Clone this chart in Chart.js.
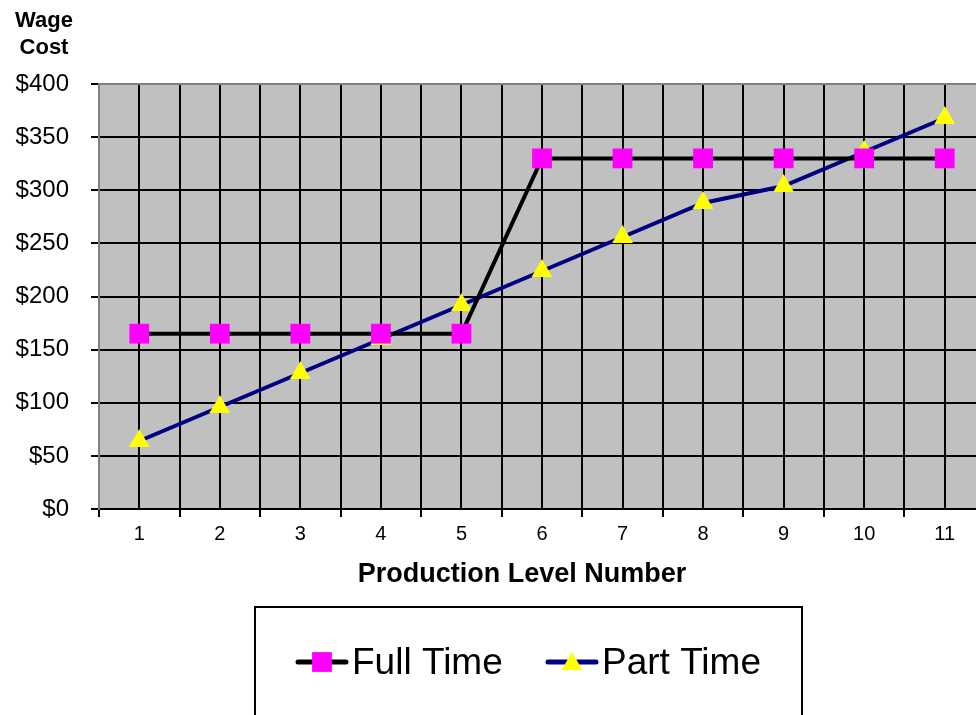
<!DOCTYPE html>
<html>
<head>
<meta charset="utf-8">
<script src="https://cdn.jsdelivr.net/npm/chart.js@4"></script>
<style>
  html, body { margin: 0; padding: 0; background: #fff; }
  #wrap { position: relative; width: 976px; height: 715px; overflow: hidden; }
  canvas { display: block; }
</style>
</head>
<body>
<!-- the plot runs past the right edge of the picture, so the canvas is wider than the window -->
<div id="wrap"><canvas id="chart" width="999" height="715"></canvas></div>
<script>
// ======================
// Data
// ======================
const levels = [1, 2, 3, 4, 5, 6, 7, 8, 9, 10, 11];
const fullTime = [165, 165, 165, 165, 165, 330, 330, 330, 330, 330, 330];
const partTime = [64, 96, 128, 160, 192, 224, 256, 288, 304, 336, 368];
const yTicks = [0, 50, 100, 150, 200, 250, 300, 350, 400];

const FONT = "Arial, 'Liberation Sans', sans-serif";

// plot background, titles and the boxed legend
const decorPlugin = {
    id: "decor",
    beforeDraw(chart) {
        const { ctx, chartArea: a } = chart;
        ctx.save();
        ctx.fillStyle = "#c0c0c0";
        ctx.fillRect(a.left, a.top, a.right - a.left, a.bottom - a.top);
        ctx.restore();
    },
    afterDraw(chart) {
        const { ctx } = chart;
        ctx.save();
        ctx.fillStyle = "#000";
        ctx.textAlign = "center";
        ctx.textBaseline = "middle";
        ctx.font = "bold 22px " + FONT;
        ctx.fillText("Wage", 44, 21);
        ctx.fillText("Cost", 44, 48);
        ctx.font = "bold 27px " + FONT;
        ctx.fillText("Production Level Number", 522, 575);

        // legend box
        ctx.strokeStyle = "#000";
        ctx.lineWidth = 2;
        ctx.strokeRect(255, 607, 547, 130);

        const items = [
            { x: 298, label: "Full Time", line: "#000000", style: "rect", fill: "#ff00ff", r: 14 },
            { x: 548, label: "Part Time", line: "#000080", style: "triangle", fill: "#ffff00", r: 12 }
        ];
        const cy = 662;
        items.forEach(it => {
            ctx.strokeStyle = it.line;
            ctx.lineWidth = 5;
            ctx.lineCap = "round";
            ctx.beginPath();
            ctx.moveTo(it.x, cy);
            ctx.lineTo(it.x + 48, cy);
            ctx.stroke();
            ctx.fillStyle = it.fill;
            Chart.helpers.drawPoint(ctx, { pointStyle: it.style, radius: it.r, rotation: 0, borderWidth: 0 }, it.x + 24, cy + (it.style === "triangle" ? 2 : 0));
            ctx.fillStyle = "#000";
            ctx.textAlign = "left";
            ctx.font = "37px " + FONT;
            ctx.fillText(it.label, it.x + 54, cy + 2);
        });
        ctx.restore();
    }
};

function initChart() {
    const el = document.getElementById("chart");
    new Chart(el, {
        type: "line",
        data: {
            datasets: [{
                label: "Full Time",
                data: levels.map((l, i) => ({ x: l, y: fullTime[i] })),
                borderColor: "#000000",
                borderWidth: 4,
                pointStyle: "rect",
                pointRadius: 14,
                pointBackgroundColor: "#ff00ff",
                pointBorderWidth: 0,
                tension: 0
            }, {
                label: "Part Time",
                data: levels.map((l, i) => ({ x: l, y: partTime[i] })),
                borderColor: "#000080",
                borderWidth: 4,
                pointStyle: "triangle",
                pointRadius: 12,
                pointBackgroundColor: "#ffff00",
                pointBorderWidth: 0,
                tension: 0
            }]
        },
        options: {
            responsive: false,
            animation: false,
            events: [],
            layout: { padding: { top: 84, right: 0, bottom: 106, left: 0 } },
            plugins: {
                legend: { display: false },
                tooltip: { enabled: false }
            },
            scales: {
                x: {
                    type: "linear",
                    min: 0.5,
                    max: 11.5,
                    afterFit: s => { s.height = 100; s.paddingLeft = 0; s.paddingRight = 0; },
                    afterBuildTicks: s => {
                        const t = [];
                        for (let v = 0.5; v <= 11.5001; v += 0.5) t.push({ value: v });
                        s.ticks = t;
                    },
                    ticks: {
                        autoSkip: false,
                        maxRotation: 0,
                        padding: 5,
                        color: "#000",
                        font: { family: FONT, size: 20 },
                        callback: v => (Number.isInteger(v) && levels.includes(v)) ? String(v) : ""
                    },
                    grid: {
                        color: "#000",
                        lineWidth: 2,
                        tickLength: 8,
                        tickColor: c => (c.tick && Number.isInteger(c.tick.value)) ? "rgba(0,0,0,0)" : "#000"
                    },
                    border: { color: "#000", width: 2 }
                },
                y: {
                    min: yTicks[0],
                    max: yTicks[yTicks.length - 1],
                    afterFit: s => { s.width = 99; },
                    afterBuildTicks: s => { s.ticks = yTicks.map(v => ({ value: v })); },
                    ticks: {
                        padding: 22,
                        color: "#000",
                        font: { family: FONT, size: 24 },
                        callback: v => "$" + v
                    },
                    grid: {
                        color: c => (c.tick && c.tick.value === 400) ? "#808080" : "#000",
                        lineWidth: 2,
                        tickLength: 8,
                        tickColor: "#000"
                    },
                    border: { color: "#808080", width: 2 }
                }
            }
        },
        plugins: [decorPlugin]
    });
}

document.addEventListener("DOMContentLoaded", initChart);
</script>
</body>
</html>
